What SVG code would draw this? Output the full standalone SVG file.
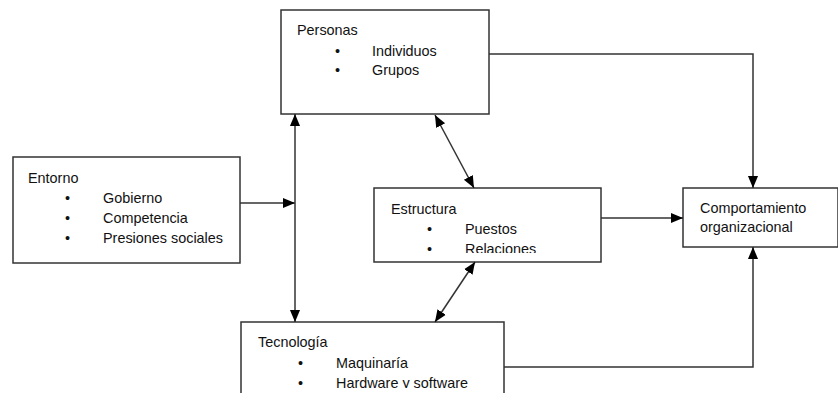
<svg xmlns="http://www.w3.org/2000/svg" width="838" height="393" viewBox="0 0 838 393">
<style>
.box{fill:#fff;stroke:#333;stroke-width:1.5}
.ln{fill:none;stroke:#333;stroke-width:1.5}
text{font-family:"Liberation Sans",Arial,sans-serif;font-size:14.4px;fill:#111}
</style>
<defs>
<marker id="ah" viewBox="0 0 10 10" refX="10" refY="5" markerWidth="12" markerHeight="12" markerUnits="userSpaceOnUse" orient="auto-start-reverse">
<path d="M0,0.8 L10,5 L0,9.2 Z" fill="#000"/>
</marker>
<clipPath id="cEst"><rect x="374" y="188" width="227" height="65"/></clipPath>
<clipPath id="cTec"><rect x="241" y="322" width="263" height="66"/></clipPath>
</defs>
<rect width="838" height="393" fill="#fff"/>
<g id="personas">
<rect class="box" x="281" y="10" width="208" height="104"/>
<text x="297" y="35">Personas</text>
<text x="335" y="56">•</text><text x="372" y="56">Individuos</text>
<text x="335" y="75">•</text><text x="372" y="75">Grupos</text>
</g>
<g id="entorno">
<rect class="box" x="13" y="157" width="227" height="106"/>
<text x="28" y="183">Entorno</text>
<text x="65" y="203">•</text><text x="103" y="203">Gobierno</text>
<text x="65" y="223">•</text><text x="103" y="223">Competencia</text>
<text x="65" y="243">•</text><text x="103" y="243">Presiones sociales</text>
</g>
<g id="estructura">
<rect class="box" x="374" y="188" width="227" height="74"/>
<text x="391" y="214">Estructura</text>
<text x="427" y="234">•</text><text x="465" y="234">Puestos</text>
<g clip-path="url(#cEst)"><text x="427" y="254">•</text><text x="465" y="254">Relaciones</text></g>
</g>
<g id="tecnologia">
<rect class="box" x="241" y="322" width="263" height="90"/>
<text x="258" y="347">Tecnología</text>
<text x="298" y="368">•</text><text x="336" y="368">Maquinaría</text>
<g clip-path="url(#cTec)"><text x="298" y="388">•</text><text x="336" y="388">Hardware y software</text></g>
</g>
<g id="comportamiento">
<rect class="box" x="683" y="188" width="155" height="59"/>
<text x="700" y="213">Comportamiento</text>
<text x="700" y="232">organizacional</text>
</g>
<g id="connectors">
<line class="ln" x1="240" y1="203" x2="295" y2="203" marker-end="url(#ah)"/>
<line class="ln" x1="295" y1="114" x2="295" y2="322" marker-start="url(#ah)" marker-end="url(#ah)"/>
<line class="ln" x1="435" y1="115" x2="474" y2="188" marker-start="url(#ah)" marker-end="url(#ah)"/>
<line class="ln" x1="475" y1="262" x2="435" y2="322" marker-start="url(#ah)" marker-end="url(#ah)"/>
<line class="ln" x1="601" y1="218" x2="683" y2="218" marker-end="url(#ah)"/>
<polyline class="ln" points="489,54 753,54 753,188" marker-end="url(#ah)"/>
<polyline class="ln" points="504,367 753,367 753,247" marker-end="url(#ah)"/>
</g>
</svg>
